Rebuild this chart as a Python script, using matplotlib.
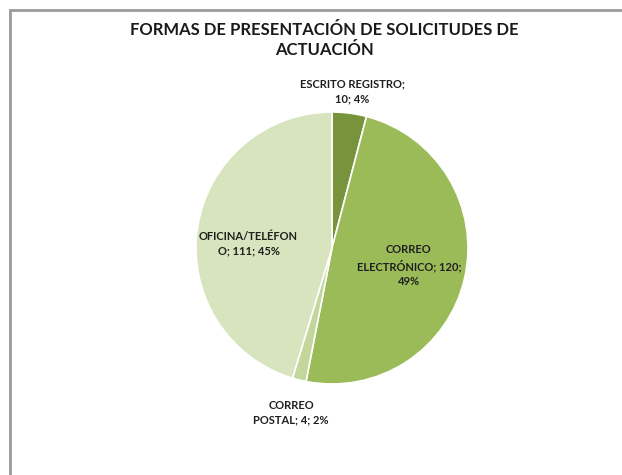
import math

import matplotlib

matplotlib.use("Agg")
import matplotlib.pyplot as plt
from matplotlib.patches import Rectangle

plt.rcParams["font.family"] = ["Lato", "DejaVu Sans"]

# data, clockwise from 12 o'clock
labels = ["ESCRITO REGISTRO;\n10; 4%", "CORREO\nELECTRÓNICO; 120;\n49%",
          "CORREO\nPOSTAL; 4; 2%", "OFICINA/TELÉFON\nO; 111; 45%"]
values = [10, 120, 4, 111]
colors = ["#77933c", "#9bbb59", "#c3d69b", "#d7e4bd"]
label_dist = [1.16, 0.58, 1.25, 0.62]
label_dy = [0, 0, 0, -0.06]

W, H, dpi = 622, 475, 100
fig = plt.figure(figsize=(W / dpi, H / dpi), dpi=dpi)

# grey chart frame, runs off the right/bottom edge like the screenshot
fig.patches.append(Rectangle((10 / W, -0.05), 1.2, 1 - 10 / H + 0.05, transform=fig.transFigure,
                             fill=False, edgecolor="#9a9a9a", linewidth=2, zorder=0))

fig.text(324 / W, 1 - 40 / H, "FORMAS DE PRESENTACIÓN DE SOLICITUDES DE\nACTUACIÓN",
         ha="center", va="center", fontsize=12, fontweight="bold", color="#1a1a1a",
         linespacing=1.35)

cx, cy, r = 332, 248, 136
ax = fig.add_axes([(cx - r) / W, 1 - (cy + r) / H, 2 * r / W, 2 * r / H])
wedges, _ = ax.pie(values, colors=colors, startangle=90, counterclock=False,
                   wedgeprops=dict(edgecolor="white", linewidth=1.2))
ax.set_xlim(-1, 1)
ax.set_ylim(-1, 1)
ax.set_aspect("auto")

total = sum(values)
acc = 0
for lab, v, d, dy in zip(labels, values, label_dist, label_dy):
    mid = 90 - 360 * (acc + v / 2) / total
    acc += v
    x = d * math.cos(math.radians(mid))
    y = d * math.sin(math.radians(mid)) + dy
    ax.text(x, y, lab, ha="center", va="center", fontsize=8, fontweight="bold",
            color="#1f1f1f", linespacing=1.4, clip_on=False)

fig.savefig("out.png", dpi=dpi)
